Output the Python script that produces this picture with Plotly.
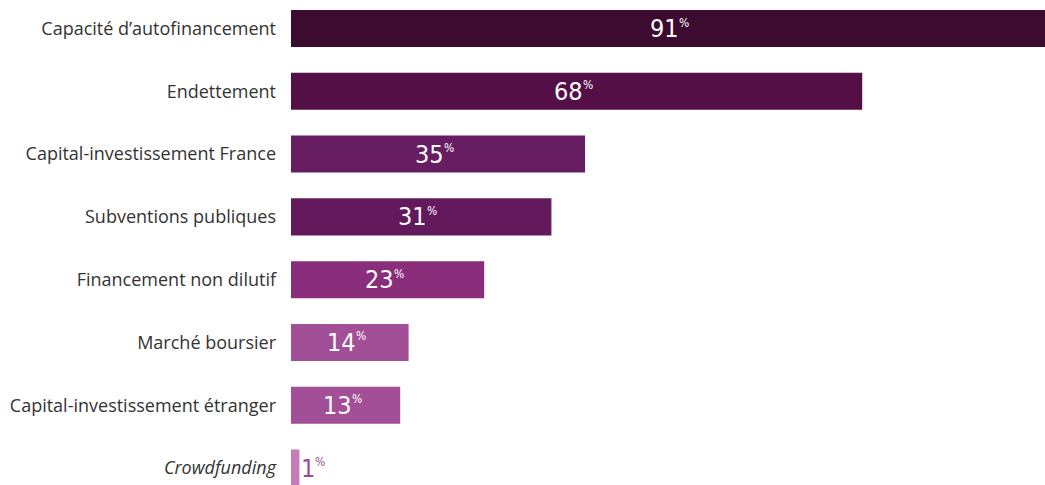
import plotly.graph_objects as go

categories = [
    "Capacité d’autofinancement",
    "Endettement",
    "Capital-investissement France",
    "Subventions publiques",
    "Financement non dilutif",
    "Marché boursier",
    "Capital-investissement étranger",
    "Crowdfunding",
]
values = [91, 68, 35, 31, 23, 14, 13, 1]
tick_labels = [
    "Capacité d’autofinancement",
    "Endettement",
    "Capital-investissement France",
    "Subventions publiques",
    "Financement non dilutif",
    "Marché boursier",
    "Capital-investissement étranger",
    "<i>Crowdfunding</i>",
]
colors = ["#3c0c30", "#540f47", "#671d61", "#621a5c", "#8a2e7c", "#a34f98", "#a34f98", "#c57bb8"]

fig = go.Figure()
fig.add_trace(go.Bar(
    y=categories, x=values, orientation="h",
    marker=dict(color=colors, line=dict(width=0)),
    width=0.59, hoverinfo="skip",
))

num_font = "DejaVu Sans Condensed, Roboto, sans-serif"
for cat, v in zip(categories, values):
    inside = v >= 5
    col = "white" if inside else "#9b4a92"
    if inside:
        xpos, shift = v / 2, 7
    else:
        xpos, shift = v, 17
    fig.add_annotation(
        x=xpos, y=cat, xref="x", yref="y",
        text=str(v), showarrow=False,
        xanchor="right", yanchor="middle", xshift=shift + 1, yshift=0,
        font=dict(family=num_font, size=25, color=col),
    )
    fig.add_annotation(
        x=xpos, y=cat, xref="x", yref="y",
        text="%", showarrow=False,
        xanchor="left", yanchor="middle", xshift=shift - 3, yshift=6,
        font=dict(family=num_font, size=12, color=col),
    )

fig.update_layout(
    width=1045, height=485,
    margin=dict(l=291, r=0, t=0, b=0),
    plot_bgcolor="white", paper_bgcolor="white",
    showlegend=False,
    xaxis=dict(range=[0, 89.76], visible=False, showgrid=False, zeroline=False),
    yaxis=dict(
        type="category", categoryorder="array", categoryarray=categories,
        range=[7.27, -0.454],
        tickmode="array", tickvals=categories, ticktext=tick_labels,
        showgrid=False, zeroline=False, showline=False, ticks="",
        ticklabelstandoff=14,
        tickfont=dict(family="Open Sans, Noto Sans, sans-serif", size=18, color="#333333"),
    ),
)

fig.write_html(
    "out.html",
    config={"displayModeBar": False},
    post_script="document.body.style.margin='0';document.documentElement.style.overflow='hidden';document.body.style.overflow='hidden';",
)
